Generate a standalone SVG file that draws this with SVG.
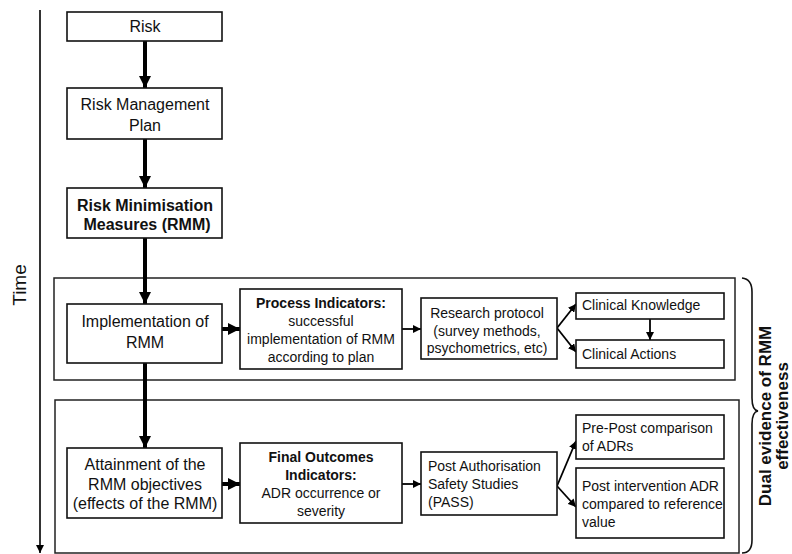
<svg xmlns="http://www.w3.org/2000/svg" width="792" height="554" viewBox="0 0 792 554">
<style>
text{font-family:"Liberation Sans",Arial,sans-serif;fill:#111}
.b{fill:#fff;stroke:#111;stroke-width:1.6}
.o{fill:none;stroke:#222;stroke-width:1.5}
.t16{font-size:16px;text-anchor:middle}
.t14{font-size:14px}
.c{text-anchor:middle}
.bold{font-weight:bold}
.thick{stroke:#000;stroke-width:4;fill:none}
.thin{stroke:#000;stroke-width:1.8;fill:none}
</style>
<defs>
<marker id="ah" markerUnits="userSpaceOnUse" markerWidth="12" markerHeight="12" refX="12" refY="6" orient="auto"><path d="M0,0 L12,6 L0,12 z" fill="#000"/></marker>
<marker id="as" markerUnits="userSpaceOnUse" markerWidth="8" markerHeight="8" refX="8" refY="4" orient="auto"><path d="M0,0 L8,4 L0,8 z" fill="#000"/></marker>
<marker id="at" markerUnits="userSpaceOnUse" markerWidth="8" markerHeight="8" refX="8" refY="4" orient="auto"><path d="M0,0 L8,4 L0,8 z" fill="#000"/></marker>
</defs>

<g id="timeline">
<line x1="40" y1="10" x2="40" y2="553" stroke="#000" stroke-width="1.6" marker-end="url(#at)"/>
<text transform="translate(26,285) rotate(-90)" style="font-size:19px;text-anchor:middle">Time</text>
</g>

<g id="group-process"><rect class="o" x="54" y="278" width="681" height="102"/></g>
<g id="group-outcome"><rect class="o" x="55" y="400" width="684" height="153"/></g>

<g id="connectors">
<line class="thick" x1="145" y1="41" x2="145" y2="88" marker-end="url(#ah)"/>
<line class="thick" x1="145" y1="139" x2="145" y2="188" marker-end="url(#ah)"/>
<line class="thick" x1="145" y1="238" x2="145" y2="304" marker-end="url(#ah)"/>
<line class="thick" x1="145" y1="363" x2="145" y2="448" marker-end="url(#ah)"/>
<line class="thick" x1="222" y1="329" x2="240" y2="329" marker-end="url(#ah)"/>
<line class="thick" x1="222" y1="484" x2="240" y2="484" marker-end="url(#ah)"/>
<line class="thin" x1="402" y1="329" x2="421" y2="329" marker-end="url(#as)"/>
<line class="thin" x1="402" y1="484" x2="421" y2="484" marker-end="url(#as)"/>
<line class="thin" x1="557" y1="328" x2="576" y2="304" marker-end="url(#as)"/>
<line class="thin" x1="557" y1="328" x2="576" y2="352" marker-end="url(#as)"/>
<line class="thin" x1="557" y1="486" x2="576" y2="441" marker-end="url(#as)"/>
<line class="thin" x1="557" y1="486" x2="576" y2="507" marker-end="url(#as)"/>
<line class="thin" x1="650" y1="319" x2="650" y2="340" marker-end="url(#as)"/>
</g>

<g id="risk"><rect class="b" x="67" y="12" width="155" height="29"/><text class="t16" x="145" y="32">Risk</text></g>
<g id="rmp"><rect class="b" x="67" y="88" width="155" height="51"/><text class="t16" x="145" y="110">Risk Management</text><text class="t16" x="145" y="131">Plan</text></g>
<g id="rmm"><rect class="b" x="67" y="188" width="155" height="50"/><text class="t16 bold" x="145" y="211">Risk Minimisation</text><text class="t16 bold" x="147" y="230">Measures (RMM)</text></g>
<g id="impl"><rect class="b" x="67" y="304" width="155" height="59"/><text class="t16" x="145" y="327">Implementation of</text><text class="t16" x="145" y="348">RMM</text></g>
<g id="process"><rect class="b" x="240" y="289" width="162" height="80"/>
<text class="t14 c bold" x="321" y="308">Process Indicators:</text>
<text class="t14 c" x="321" y="326">successful</text>
<text class="t14 c" x="321" y="344">implementation of RMM</text>
<text class="t14 c" x="321" y="362">according to plan</text></g>
<g id="research"><rect class="b" x="421" y="298" width="136" height="61"/>
<text class="t14 c" x="487" y="318">Research protocol</text>
<text class="t14 c" x="487" y="336">(survey methods,</text>
<text class="t14 c" x="487" y="353">psychometrics, etc)</text></g>
<g id="knowledge"><rect class="b" x="576" y="293" width="148" height="26"/><text class="t14" x="582" y="310">Clinical Knowledge</text></g>
<g id="actions"><rect class="b" x="576" y="340" width="148" height="28"/><text class="t14" x="582" y="359">Clinical Actions</text></g>

<g id="attain"><rect class="b" x="67" y="448" width="155" height="70"/><text class="t16" x="145" y="470">Attainment of the</text><text class="t16" x="145" y="490">RMM objectives</text><text class="t16" x="145" y="509">(effects of the RMM)</text></g>
<g id="final"><rect class="b" x="240" y="443" width="162" height="80"/>
<text class="t14 c bold" x="321" y="462">Final Outcomes</text>
<text class="t14 c bold" x="321" y="480">Indicators:</text>
<text class="t14 c" x="321" y="498">ADR occurrence or</text>
<text class="t14 c" x="321" y="516">severity</text></g>
<g id="pass"><rect class="b" x="421" y="452" width="136" height="63"/>
<text class="t14" x="428" y="471">Post Authorisation</text>
<text class="t14" x="428" y="489">Safety Studies</text>
<text class="t14" x="428" y="507">(PASS)</text></g>
<g id="prepost"><rect class="b" x="576" y="415" width="148" height="44"/>
<text class="t14" x="582" y="433">Pre-Post comparison</text>
<text class="t14" x="582" y="451">of ADRs</text></g>
<g id="postint"><rect class="b" x="576" y="468" width="148" height="70"/>
<text class="t14" x="582" y="491">Post intervention ADR</text>
<text class="t14" x="582" y="509">compared to reference</text>
<text class="t14" x="582" y="527">value</text></g>

<g id="brace">
<path d="M742,278 Q752,279 752,292 L752,398 Q752,410 758,411 Q752,412 752,424 L752,540 Q752,553 742,553" fill="none" stroke="#111" stroke-width="1.6"/>
<text transform="translate(771,416) rotate(-90)" class="bold" style="font-size:17px;text-anchor:middle">Dual evidence of RMM</text>
<text transform="translate(788,416) rotate(-90)" class="bold" style="font-size:17px;text-anchor:middle">effectiveness</text>
</g>
</svg>
